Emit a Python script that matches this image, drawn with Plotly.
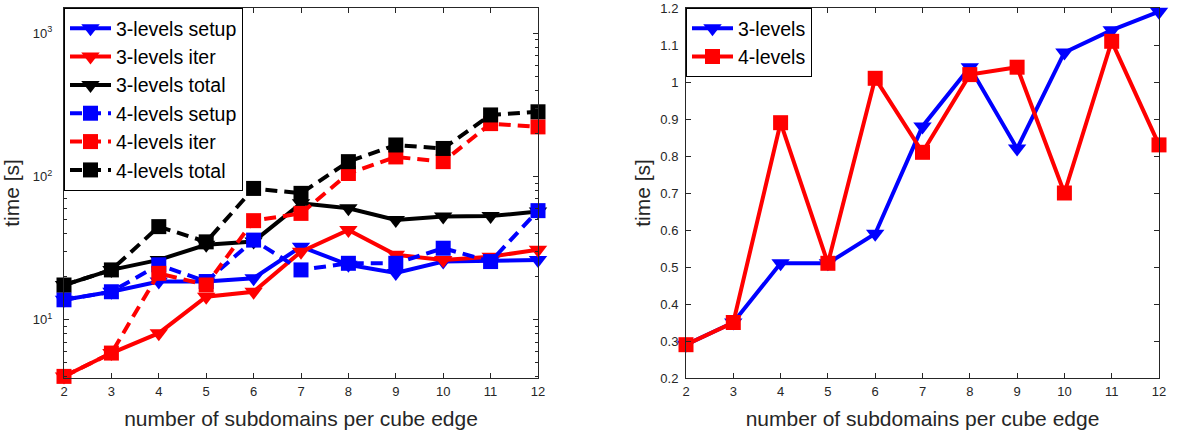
import plotly.graph_objects as go

x = [2, 3, 4, 5, 6, 7, 8, 9, 10, 11, 12]

# left panel (log scale)
setup3 = [13.8, 15.7, 18.5, 18.5, 19.5, 32.4, 24.2, 21.2, 25.5, 25.7, 26.2]
iter3 = [4.03, 5.86, 8.07, 14.5, 15.7, 29.9, 42.4, 28.4, 26.2, 27.6, 30.8]
total3 = [17.5, 22.3, 26.2, 33.4, 35.2, 65.0, 60.0, 49.8, 52.5, 53.0, 56.9]
setup4 = [13.8, 15.7, 24.2, 18.5, 36.0, 22.3, 24.8, 24.8, 31.6, 25.5, 57.8]
iter4 = [4.03, 5.86, 21.1, 17.5, 49.2, 55.3, 105, 137, 127, 234, 222]
total4 = [17.5, 22.3, 44.7, 35.0, 82.6, 76.3, 127, 166, 157, 269, 283]

# right panel
lev3 = [0.29, 0.35, 0.51, 0.51, 0.59, 0.88, 1.04, 0.82, 1.08, 1.14, 1.19]
lev4 = [0.29, 0.35, 0.89, 0.51, 1.01, 0.81, 1.02, 1.04, 0.70, 1.11, 0.83]

left_names = ["3-levels setup", "3-levels iter", "3-levels total",
              "4-levels setup", "4-levels iter", "4-levels total"]
right_names = ["3-levels", "4-levels"]
x_ticks = ["2", "3", "4", "5", "6", "7", "8", "9", "10", "11", "12"]
log_tickvals = [10, 100, 1000]
log_ticktext = ["10<sup>1</sup>", "10<sup>2</sup>", "10<sup>3</sup>"]
lin_tickvals = [0.2, 0.3, 0.4, 0.5, 0.6, 0.7, 0.8, 0.9, 1.0, 1.1, 1.2]
lin_ticktext = ["0.2", "0.3", "0.4", "0.5", "0.6", "0.7", "0.8", "0.9", "1", "1.1", "1.2"]

FONT = "Liberation Sans, Arial, sans-serif"
AX = "#262626"
DASH = "12px,7px"
LW = 4
TRI = 16
SQ = 15

fig = go.Figure()

left_series = [setup3, iter3, total3, setup4, iter4, total4]
colors = ["#0000ff", "#ff0000", "#000000"] * 2
for i, (name, ys) in enumerate(zip(left_names, left_series)):
    is4 = i >= 3
    fig.add_trace(go.Scatter(
        x=x, y=ys, name=name, mode="lines+markers", cliponaxis=False,
        line=dict(color=colors[i], width=LW, dash=DASH if is4 else "solid"),
        marker=dict(symbol="square" if is4 else "triangle-down",
                    size=SQ if is4 else TRI, color=colors[i], line=dict(width=0)),
        xaxis="x", yaxis="y", legend="legend",
    ))

for name, ys, col, sym in [(right_names[0], lev3, "#0000ff", "triangle-down"),
                           (right_names[1], lev4, "#ff0000", "square")]:
    fig.add_trace(go.Scatter(
        x=x, y=ys, name=name, mode="lines+markers", cliponaxis=False,
        line=dict(color=col, width=LW),
        marker=dict(symbol=sym, size=TRI if sym == "triangle-down" else SQ,
                    color=col, line=dict(width=0)),
        xaxis="x2", yaxis="y2", legend="legend2",
    ))

W, H = 1178, 434
def px_x(v):
    return v / W
def px_y(v):
    return 1 - v / H

ydom = [px_y(378), px_y(8)]
TICKF = dict(family=FONT, size=13, color=AX)
TITLEF = dict(family=FONT, size=21, color=AX)
common_x = dict(range=[2, 12], tickvals=x, ticktext=x_ticks, ticks="inside", ticklen=5,
                tickcolor=AX, showline=True, linecolor=AX, linewidth=1, mirror="ticks",
                showgrid=False, zeroline=False, automargin=False,
                ticklabelstandoff=1, tickfont=TICKF,
                title=dict(text="number of subdomains per cube edge", font=TITLEF, standoff=13))

minor_vals = [v * m for v in [1, 10, 100, 1000] for m in range(2, 10)]
LEGF = dict(family=FONT, size=19.5, color="#000000")
fig.update_layout(
    width=W, height=H, margin=dict(l=0, r=0, t=0, b=0, autoexpand=False),
    paper_bgcolor="white", plot_bgcolor="white",
    font=dict(family=FONT, color=AX),
    xaxis=dict(domain=[px_x(64), px_x(538)], anchor="y", **common_x),
    xaxis2=dict(domain=[px_x(686), px_x(1159)], anchor="y2", **common_x),
    yaxis=dict(domain=ydom, anchor="x", type="log",
               range=[0.594, 3.176],
               tickvals=log_tickvals, ticktext=log_ticktext,
               ticks="inside", ticklen=5, tickcolor=AX,
               minor=dict(tickvals=minor_vals, ticks="inside", ticklen=3, tickcolor=AX),
               showline=True, linecolor=AX, linewidth=1, mirror="ticks",
               showgrid=False, zeroline=False, automargin=False,
               ticklabelstandoff=8, tickfont=TICKF,
               title=dict(text="time [s]", font=TITLEF, standoff=10)),
    yaxis2=dict(domain=ydom, anchor="x2", range=[0.2, 1.2],
                tickvals=lin_tickvals, ticktext=lin_ticktext,
                ticks="inside", ticklen=5, tickcolor=AX,
                showline=True, linecolor=AX, linewidth=1, mirror="ticks",
                showgrid=False, zeroline=False, automargin=False,
                ticklabelstandoff=4, tickfont=TICKF,
                title=dict(text="time [s]", font=TITLEF, standoff=3)),
    legend=dict(x=px_x(64), y=px_y(8), xanchor="left", yanchor="top",
                bgcolor="white", bordercolor="#000000", borderwidth=1,
                font=LEGF, itemwidth=41),
    legend2=dict(x=px_x(686), y=px_y(8), xanchor="left", yanchor="top",
                 bgcolor="white", bordercolor="#000000", borderwidth=1,
                 font=LEGF, itemwidth=41),
    showlegend=True,
    hovermode=False,
)

# remove the default 8px page margin so the figure fills the window exactly
fig.write_html("out.html", config={"displayModeBar": False},
               post_script="document.body.style.margin='0';")
